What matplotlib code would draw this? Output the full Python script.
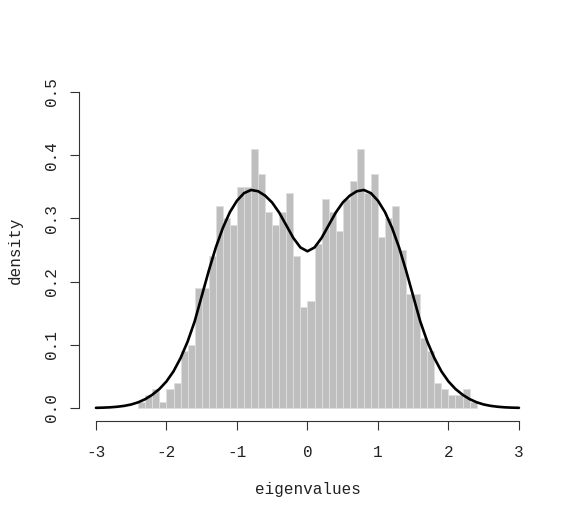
import matplotlib
matplotlib.use('Agg')
import matplotlib.pyplot as plt
import numpy as np

# histogram of eigenvalues (bin width 0.1, density scale)
bin_edges = [round(-2.4 + 0.1 * i, 1) for i in range(49)]
bin_density = [0.01, 0.02, 0.03, 0.01, 0.03, 0.04, 0.09, 0.10, 0.19, 0.19,
               0.24, 0.32, 0.30, 0.29, 0.35, 0.35, 0.41, 0.37, 0.31, 0.29,
               0.31, 0.34, 0.24, 0.16, 0.17, 0.26, 0.33, 0.31, 0.28, 0.33,
               0.36, 0.41, 0.34, 0.37, 0.27, 0.30, 0.32, 0.25, 0.18, 0.18,
               0.11, 0.09, 0.04, 0.03, 0.02, 0.02, 0.03, 0.01]

# density curve (symmetric around 0)
curve_half_x = [0.0, 0.1, 0.2, 0.3, 0.4, 0.5, 0.6, 0.7, 0.8, 0.9, 1.0,
                1.1, 1.2, 1.3, 1.4, 1.5, 1.6, 1.7, 1.8, 1.9, 2.0,
                2.1, 2.2, 2.3, 2.4, 2.5, 2.6, 2.7, 2.8, 2.9, 3.0]
curve_half_y = [0.248, 0.254, 0.269, 0.289, 0.309, 0.325, 0.336, 0.343, 0.345, 0.340, 0.328,
                0.310, 0.285, 0.254, 0.217, 0.177, 0.137, 0.105, 0.079, 0.058, 0.042,
                0.030, 0.021, 0.014, 0.009, 0.0055, 0.0033, 0.0019, 0.001, 0.0005, 0.0002]

x_ticks = [-3, -2, -1, 0, 1, 2, 3]
x_ticklabels = ['-3', '-2', '-1', '0', '1', '2', '3']
y_ticks = [0.0, 0.1, 0.2, 0.3, 0.4, 0.5]
y_ticklabels = ['0.0', '0.1', '0.2', '0.3', '0.4', '0.5']

curve_x = [-v for v in curve_half_x[::-1]] + curve_half_x[1:]
curve_y = curve_half_y[::-1] + curve_half_y[1:]

plt.rcParams['font.family'] = ['Liberation Mono', 'DejaVu Sans Mono']

fig = plt.figure(figsize=(5.77, 5.19), dpi=100)
ax = fig.add_axes([0.137, 0.1896, 0.7917, 0.6574])

widths = np.diff(bin_edges)
ax.bar(bin_edges[:-1], bin_density, width=widths, align='edge',
       color='#bebebe', edgecolor='#dedede', linewidth=0.6)
ax.plot(curve_x, curve_y, color='black', linewidth=1.9,
        solid_joinstyle='round', solid_capstyle='round')

ax.set_xlim(-3.24, 3.24)
ax.set_ylim(-0.02, 0.52)

for side in ['top', 'right']:
    ax.spines[side].set_visible(False)
ax.spines['bottom'].set_bounds(-3, 3)
ax.spines['left'].set_bounds(0, 0.5)
for side in ['bottom', 'left']:
    ax.spines[side].set_color('#333333')
    ax.spines[side].set_linewidth(0.8)

ax.set_xticks(x_ticks)
ax.set_xticklabels(x_ticklabels)
ax.set_yticks(y_ticks)
ax.set_yticklabels(y_ticklabels, rotation=90, va='center')
ax.tick_params(axis='both', length=6.5, width=0.8, color='#333333',
               labelsize=11.5, labelcolor='#222222')
ax.tick_params(axis='x', pad=11)
ax.tick_params(axis='y', pad=8)

ax.set_xlabel('eigenvalues', fontsize=11.5, labelpad=16, color='#222222')
ax.set_ylabel('density', fontsize=11.5, labelpad=15, color='#222222')

fig.savefig('out.png', dpi=100)
